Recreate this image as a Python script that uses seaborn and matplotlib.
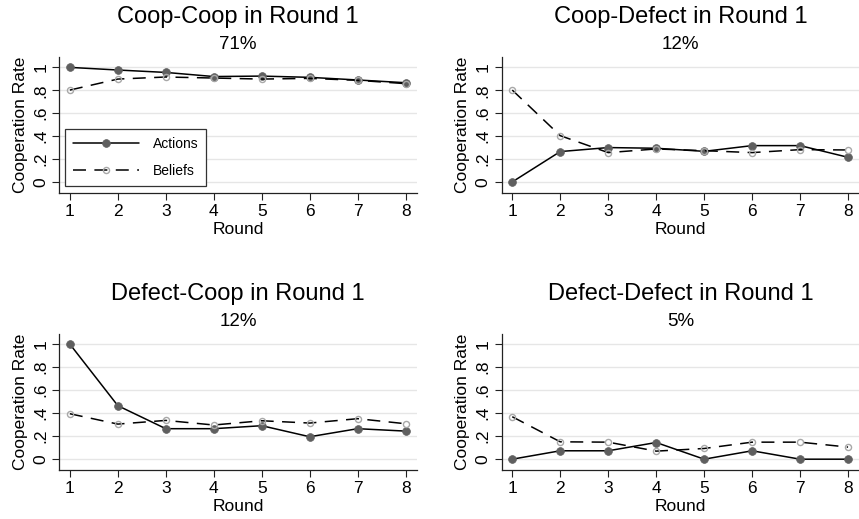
import numpy as np
import pandas as pd
import matplotlib
matplotlib.use("Agg")
import matplotlib.pyplot as plt
import seaborn as sns

# ---------------- data ----------------
rounds = [1, 2, 3, 4, 5, 6, 7, 8]
panel_titles = ["Coop-Coop in Round 1", "Coop-Defect in Round 1",
                "Defect-Coop in Round 1", "Defect-Defect in Round 1"]
panel_shares = ["71%", "12%", "12%", "5%"]

cc_actions = [1.0, 0.977, 0.956, 0.92, 0.924, 0.913, 0.89, 0.866]
cc_beliefs = [0.802, 0.898, 0.916, 0.907, 0.898, 0.904, 0.887, 0.858]
cd_actions = [0.0, 0.265, 0.30, 0.294, 0.267, 0.317, 0.317, 0.215]
cd_beliefs = [0.802, 0.404, 0.256, 0.288, 0.273, 0.256, 0.282, 0.279]
dc_actions = [1.0, 0.465, 0.265, 0.265, 0.291, 0.195, 0.265, 0.244]
dc_beliefs = [0.395, 0.305, 0.337, 0.297, 0.334, 0.314, 0.352, 0.308]
dd_actions = [0.0, 0.073, 0.073, 0.145, 0.0, 0.073, 0.0, 0.0]
dd_beliefs = [0.369, 0.151, 0.148, 0.07, 0.093, 0.148, 0.148, 0.105]

y_ticks = [0, 0.2, 0.4, 0.6, 0.8, 1.0]
y_tick_labels = ["0", ".2", ".4", ".6", ".8", "1"]
series_names = ["Actions", "Beliefs"]
x_label = "Round"
y_label = "Cooperation Rate"

panel_actions = [cc_actions, cd_actions, dc_actions, dd_actions]
panel_beliefs = [cc_beliefs, cd_beliefs, dc_beliefs, dd_beliefs]

# ---------------- style ----------------
sns.set_style("white")
plt.rcParams["font.family"] = ["Liberation Sans", "DejaVu Sans"]
plt.rcParams["text.color"] = "black"
plt.rcParams["axes.labelcolor"] = "black"
plt.rcParams["xtick.color"] = "black"
plt.rcParams["ytick.color"] = "black"

W, H = 859, 519
fig = plt.figure(figsize=(W / 100, H / 100), dpi=100)

def rect(left, right, top, bottom):
    return [left / W, 1 - bottom / H, (right - left) / W, (bottom - top) / H]

rects = [
    rect(59.3, 416.7, 57.3, 192.7),
    rect(501.7, 859.1, 57.3, 192.7),
    rect(59.3, 416.7, 334.0, 470.0),
    rect(501.7, 859.1, 334.0, 470.0),
]

axis_col = "#222222"
act_col = "#5f5f5f"
bel_col = "#a8a8a8"

for i in range(4):
    ax = fig.add_axes(rects[i])
    df = pd.DataFrame({"Round": rounds,
                       "Actions": panel_actions[i],
                       "Beliefs": panel_beliefs[i]})
    sns.lineplot(data=df, x="Round", y="Actions", ax=ax, color="black",
                 lw=1.1, marker="o", markersize=5.6,
                 markerfacecolor=act_col, markeredgecolor=act_col,
                 markeredgewidth=0.5, label=series_names[0] if i == 0 else None,
                 legend=False, zorder=3)
    sns.lineplot(data=df, x="Round", y="Beliefs", ax=ax, color="black",
                 lw=1.1, linestyle=(0, (8.5, 5.5)), marker="o", markersize=4.4,
                 markerfacecolor="none", markeredgecolor=bel_col,
                 markeredgewidth=1.0, label=series_names[1] if i == 0 else None,
                 legend=False, zorder=4)

    ax.set_xlim(0.78, 8.23)
    ax.set_ylim(-0.094, 1.088)
    ax.set_xticks(rounds)
    ax.set_xticklabels([str(r) for r in rounds])
    ax.set_yticks(y_ticks)
    ax.set_yticklabels(y_tick_labels, rotation=90, va="center")
    ax.yaxis.grid(True, color="#e6e6e6", lw=1.0)
    ax.xaxis.grid(False)
    ax.set_axisbelow(True)
    for s in ["top", "right"]:
        ax.spines[s].set_visible(False)
    for s in ["left", "bottom"]:
        ax.spines[s].set_color(axis_col)
        ax.spines[s].set_linewidth(0.9)
    ax.tick_params(axis="both", direction="out", length=5, width=0.8,
                   color=axis_col, labelcolor="black", labelsize=12.5, pad=3,
                   left=True, bottom=True)
    ax.set_xlabel(x_label, fontsize=12.5, labelpad=2, color="black")
    ax.set_ylabel(y_label, fontsize=12.5, labelpad=4, color="black")

    ax.annotate(panel_titles[i], xy=(0.5, 1.0), xycoords="axes fraction",
                xytext=(0, 24.5), textcoords="offset points",
                ha="center", va="baseline", fontsize=17, color="black")
    ax.annotate(panel_shares[i], xy=(0.5, 1.0), xycoords="axes fraction",
                xytext=(0, 5.8), textcoords="offset points",
                ha="center", va="baseline", fontsize=13.5, color="black")

    if i == 0:
        leg = ax.legend(loc="lower left", bbox_to_anchor=(0.016, 0.05),
                        borderaxespad=0, fontsize=10, handlelength=4.7,
                        handletextpad=1.0, labelspacing=0.9, borderpad=0.6,
                        fancybox=False, framealpha=1, edgecolor="#333333",
                        numpoints=1)
        leg.get_frame().set_linewidth(0.9)
        for t in leg.get_texts():
            t.set_color("black")

fig.savefig("out.png", dpi=100)
